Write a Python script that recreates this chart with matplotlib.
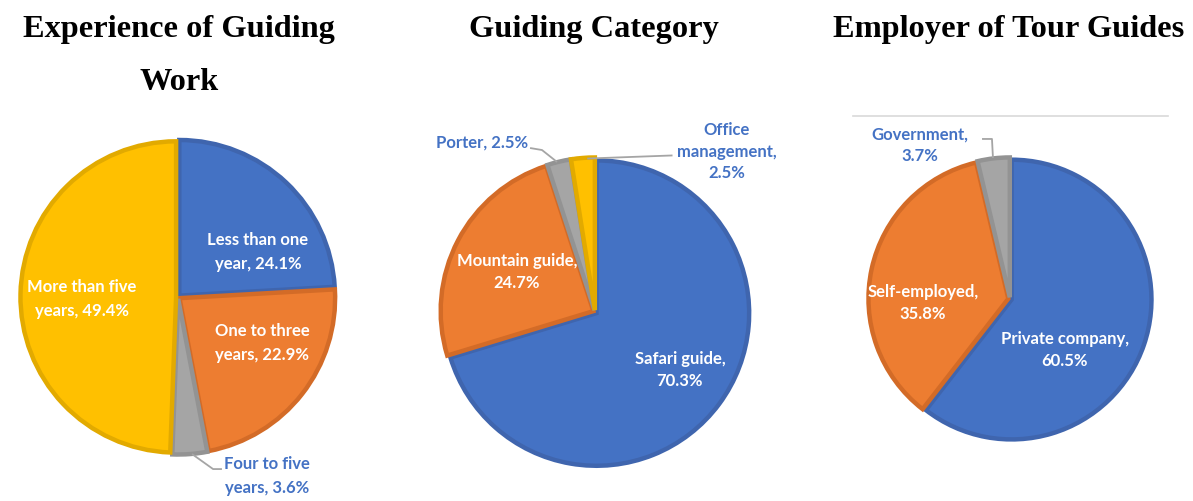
import matplotlib
matplotlib.use("Agg")
import matplotlib.pyplot as plt
from matplotlib.lines import Line2D

W, H = 1193, 502
fig = plt.figure(figsize=(W / 100, H / 100), dpi=100)

# ---- data ----
exp_labels = ["Less than one\nyear, 24.1%", "One to three\nyears, 22.9%",
              "Four to five\nyears, 3.6%", "More than five\nyears, 49.4%"]
exp_values = [24.1, 22.9, 3.6, 49.4]

cat_labels = ["Safari guide,\n70.3%", "Mountain guide,\n24.7%",
              "Porter, 2.5%", "Office\nmanagement,\n2.5%"]
cat_values = [70.3, 24.7, 2.5, 2.5]

emp_labels = ["Private company,\n60.5%", "Self-employed,\n35.8%", "Government,\n3.7%"]
emp_values = [60.5, 35.8, 3.7]

titles = ["Experience of Guiding", "Work", "Guiding Category", "Employer of Tour Guides"]

# ---- styling ----
FILL = ["#4472C4", "#ED7D31", "#A5A5A5", "#FFC000"]
EDGE = ["#3F65AE", "#D36B27", "#939393", "#E2AA00"]
LABEL_BLUE = "#4472C4"
LFONT = dict(family="Lato", weight="bold", fontsize=12)


def draw_pie(cx, cy, R, values, labels, label_pos, fill_order, label_colors,
             aligns, leaders, ls):
    ax = fig.add_axes([(cx - R) / W, (H - cy - R) / H, 2 * R / W, 2 * R / H])
    wedges, _ = ax.pie(values, startangle=90, counterclock=False,
                       colors=[FILL[i] for i in fill_order],
                       explode=[0.012] * len(values), radius=0.985,
                       wedgeprops=dict(linewidth=3.2))
    for w, i in zip(wedges, fill_order):
        w.set_edgecolor(EDGE[i])
        w.set_joinstyle("miter")
    for lab, (x, y), col, ha in zip(labels, label_pos, label_colors, aligns):
        ax.text(x, y, lab, color=col, ha=ha, va="center", linespacing=ls,
                multialignment="center", **LFONT)
    for pts in leaders:
        xs, ys = zip(*pts)
        ax.plot(xs, ys, color="#A5A5A5", lw=1.3, solid_capstyle="butt",
                clip_on=False)
    ax.set_xlim(-1, 1)
    ax.set_ylim(-1, 1)
    ax.set_aspect("equal")
    ax.axis("off")
    return ax


# Pie 1
draw_pie(178, 298, 158, exp_values, exp_labels,
         [(0.506, 0.291), (0.532, -0.285), (0.291, -1.127), (-0.608, -0.006)],
         [0, 1, 2, 3],
         ["white", "white", LABEL_BLUE, "white"],
         ["center", "center", "left", "center"],
         [[(0.089, -0.994), (0.222, -1.089), (0.278, -1.089)]], 1.55)

# Pie 2
draw_pie(595, 313, 155, cat_values, cat_labels,
         [(0.548, -0.368), (-0.503, 0.265), (-0.432, 1.097), (0.852, 1.039)],
         [0, 1, 2, 3],
         ["white", "white", LABEL_BLUE, LABEL_BLUE],
         ["center", "center", "right", "center"],
         [[(-0.419, 1.058), (-0.342, 1.045), (-0.245, 0.968)],
          [(-0.05, 0.99), (0.50, 1.01)]], 1.42)

# Pie 3
draw_pie(1010, 300, 142, emp_values, emp_labels,
         [(0.387, -0.352), (-0.613, -0.021), (-0.634, 1.092)],
         [0, 1, 2],
         ["white", "white", LABEL_BLUE],
         ["center", "center", "center"],
         [[(-0.197, 1.127), (-0.127, 1.127), (-0.120, 0.993)]], 1.42)

# Thin separator line above third pie
fig.add_artist(Line2D([853 / W, 1168 / W], [1 - 117 / H, 1 - 117 / H],
                      color="#D9D9D9", lw=1.2))

# Titles
TFONT = dict(family="Liberation Serif", weight="bold", fontsize=23.3)
fig.text(179 / W, 1 - 37 / H, titles[0], ha="center", va="baseline", **TFONT)
fig.text(179 / W, 1 - 90 / H, titles[1], ha="center", va="baseline", **TFONT)
fig.text(594 / W, 1 - 37 / H, titles[2], ha="center", va="baseline", **TFONT)
fig.text(1009 / W, 1 - 37 / H, titles[3], ha="center", va="baseline", **TFONT)

fig.savefig("out.png", dpi=100, facecolor="white")
